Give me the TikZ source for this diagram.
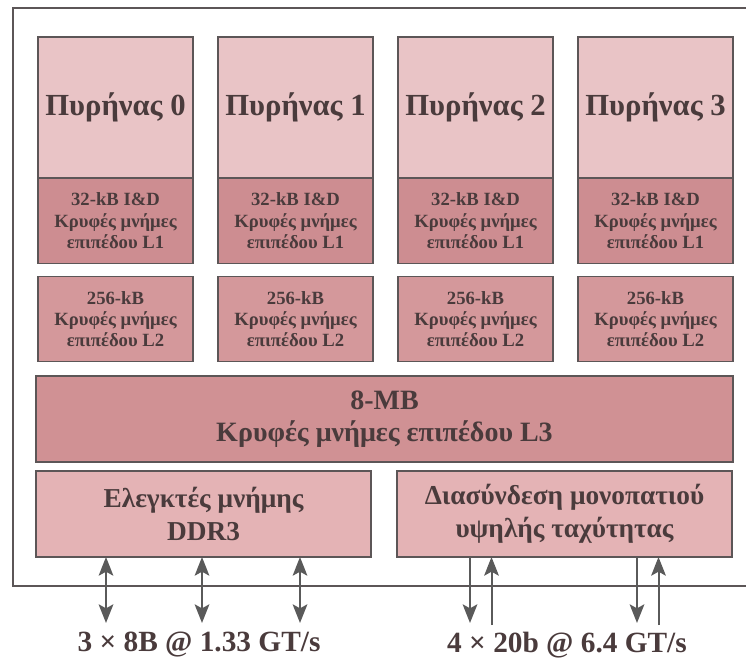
\documentclass[tikz,border=0pt]{standalone}
\usepackage{fontspec}
\setmainfont{Liberation Serif}
\usetikzlibrary{arrows.meta,calc,positioning}
\definecolor{ink}{HTML}{4A3B3C}
\definecolor{edge}{HTML}{5C5657}
\definecolor{wire}{HTML}{5A5A5A}
\definecolor{corefill}{HTML}{E9C4C6}
\definecolor{lonefill}{HTML}{CD8D91}
\definecolor{ltwofill}{HTML}{D4989B}
\definecolor{lthreefill}{HTML}{D09194}
\definecolor{iofill}{HTML}{E4B3B5}
\tikzset{
  blk/.style={draw=edge,line width=1pt,text=ink,align=center,inner sep=0pt,outer sep=0pt},
  corebox/.style={blk,fill=corefill,minimum width=116.25pt,minimum height=105.75pt,
    font=\fontsize{23}{27}\selectfont\bfseries},
  cachebox/.style={blk,minimum width=116.25pt,minimum height=64pt,
    font=\fontsize{14}{16}\selectfont\bfseries},
  widebox/.style={blk,minimum height=64.5pt,font=\fontsize{20.5}{25}\selectfont\bfseries},
  bus/.style={wire,line width=1.5pt,>={Stealth[length=14pt,width=11pt,inset=3pt]}},
  rate/.style={text=ink,font=\fontsize{22}{26}\selectfont\bfseries},
}

\begin{document}
\begin{tikzpicture}[x=0.75pt,y=-0.75pt]
  \useasboundingbox (0,0) rectangle (746,662);
  % ---------- chip outline (cut at the right) ----------
  \draw[edge,line width=1pt] (746,8) -| (13,586) -- (746,586);
  % ---------- cores with L1 and L2 ----------
  \foreach \i in {0,...,3} {
    \node[corebox] (core\i) at (115.5+180*\i,107.5) {\raisebox{-3pt}{Πυρήνας \i}};
    \node[cachebox,fill=lonefill,below=0pt of core\i] (lone\i)
      {32-kB I\&D\\Κρυφές μνήμες\\επιπέδου L1};
    \node[cachebox,fill=ltwofill,below=9.75pt of lone\i] (ltwo\i)
      {256-kB\\Κρυφές μνήμες\\επιπέδου L2};
  }
  % ---------- shared L3 ----------
  \node[widebox,fill=lthreefill,minimum width=522.75pt,
    font=\fontsize{21}{24}\selectfont\bfseries] (lthree) at (384.5,419)
    {8-MB\\Κρυφές μνήμες επιπέδου L3};
  % ---------- memory controller and interconnect ----------
  \node[widebox,fill=iofill,minimum width=251.25pt] (ddr) at (203.5,514)
    {Ελεγκτές μνήμης\\DDR3};
  \node[widebox,fill=iofill,minimum width=251.25pt] (qpi) at (564.5,514)
    {Διασύνδεση μονοπατιού\\υψηλής ταχύτητας};
  % ---------- buses ----------
  \foreach \dx [count=\k] in {-97.5,-1.5,96.5} {
    \coordinate (mem\k) at ($(ddr.south)+(\dx,66)$);
    \draw[bus,<->] (mem\k) -- (mem\k |- ddr.south);
  }
  \foreach \dx [count=\k] in {-94.5,72.5} {
    \coordinate (qdn\k) at ($(qpi.south)+(\dx,66)$);
    \coordinate (qup\k) at ($(qpi.south)+(\dx+21.5,68)$);
    \draw[bus,->] (qpi.south -| qdn\k) -- (qdn\k);
    \draw[bus,->] (qup\k) -- (qup\k |- qpi.south);
  }
  % ---------- bandwidth labels ----------
  \node[rate] (memrate) at (199,645) {3 × 8B @ 1.33 GT/s};
  \node[rate] (qpirate) at (567,645) {4 × 20b @ 6.4 GT/s};
\end{tikzpicture}
\end{document}
